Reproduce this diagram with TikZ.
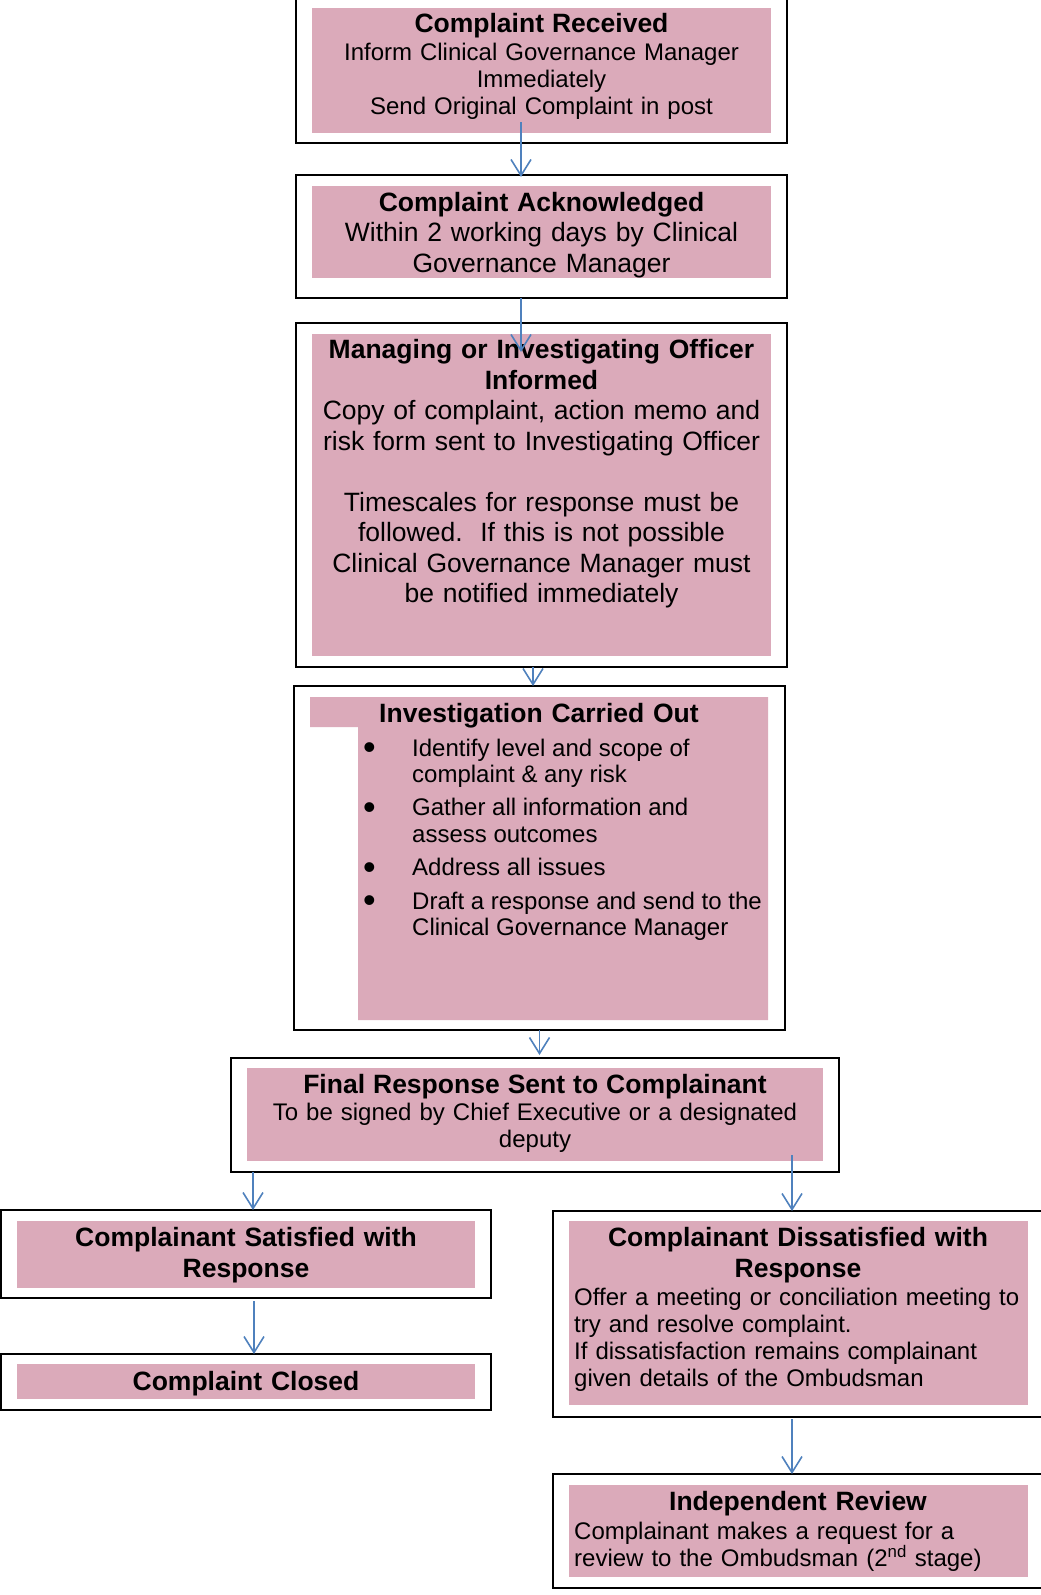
\documentclass[tikz,border=0pt]{standalone}
\usepackage{fontspec}
\setmainfont{Liberation Sans}
\usepackage{xcolor}
\usepackage{tikz}
\usetikzlibrary{arrows.meta}
\definecolor{stepfill}{RGB}{219,170,186}
\definecolor{flowblue}{RGB}{79,129,189}
\newcommand{\headfont}{\fontsize{26.5}{30.5}\bfseries\selectfont}
\newcommand{\bodyfont}{\fontsize{26.5}{30.5}\selectfont}
\newcommand{\smallfont}{\fontsize{24}{27.3}\selectfont}
\newcommand{\bigdot}{\makebox[49pt][l]{\raisebox{-3.5pt}{\fontsize{36}{0}\selectfont\textbullet}}}

\begin{document}
\begin{tikzpicture}[x=1pt,y=-1pt,
    frame/.style={draw=black,line width=1.8pt,inner sep=0pt,outer sep=0pt,anchor=north west},
    pinkbox/.style={fill=stepfill,inner sep=0pt,outer sep=0pt,anchor=north west},
    words/.style={anchor=base,inner sep=0pt,align=center},
    leftwords/.style={anchor=base west,inner sep=0pt,align=left},
    flow/.style={draw=flowblue,line width=1.6pt,-{Straight Barb[length=16pt,width=20pt]}}]
        \useasboundingbox (0,0) rectangle (1041,1595);

        \node[frame,minimum width=491pt,minimum height=147pt] (recvframe) at (296,-4) {};
        \node[pinkbox,minimum width=459pt,minimum height=125pt] (recvfill) at (312,8) {};
        \node[words,text width=455pt,font=\smallfont] (recvtext) at (541.5,33)
            {{\headfont Complaint Received}\\Inform Clinical Governance Manager\\Immediately\\Send Original Complaint in post};

        \node[frame,minimum width=491pt,minimum height=123pt] (ackframe) at (296,175) {};
        \node[pinkbox,minimum width=459pt,minimum height=92pt] (ackfill) at (312,186) {};
        \node[words,text width=455pt,font=\bodyfont] (acktext) at (541.5,211)
            {{\headfont Complaint Acknowledged}\\Within 2 working days by Clinical\\Governance Manager};

        \node[frame,minimum width=491pt,minimum height=344pt] (informframe) at (296,323) {};
        \node[pinkbox,minimum width=459pt,minimum height=322pt] (informfill) at (312,334) {};
        \node[words,text width=455pt,font=\bodyfont] (informtext) at (541.5,358.5)
            {{\headfont Managing or Investigating Officer}\\{\headfont Informed}\\Copy of complaint, action memo and\\risk form sent to Investigating Officer\\[30.5pt]
             Timescales for response must be\\followed.\ \ If this is not possible\\Clinical Governance Manager must\\be notified immediately};

        \node[frame,minimum width=491pt,minimum height=344pt] (investframe) at (294,686) {};
        \fill[stepfill] (310,697) -- (768,697) -- (768,1020) -- (358,1020) -- (358,727) -- (310,727) -- cycle;
        \node[words,text width=455pt,font=\headfont] (investhead) at (539,722.7) {Investigation Carried Out};
        \node[leftwords,font={\fontsize{24}{26.7}\selectfont}] (investlist) at (363,756)
            {\begin{tabular}[t]{@{}l@{}l@{}}
             \bigdot & Identify level and scope of\\
              & complaint \& any risk\\[6.5pt]
             \bigdot & Gather all information and\\
              & assess outcomes\\[6.5pt]
             \bigdot & Address all issues\\[6.5pt]
             \bigdot & Draft a response and send to the\\
              & Clinical Governance Manager
             \end{tabular}};

        \node[frame,minimum width=608pt,minimum height=114pt] (finalframe) at (231,1058) {};
        \node[pinkbox,minimum width=576pt,minimum height=93pt] (finalfill) at (247,1068) {};
        \node[words,text width=570pt,font=\smallfont] (finaltext) at (535,1093.3)
            {{\headfont Final Response Sent to Complainant}\\To be signed by Chief Executive or a designated\\deputy};

        \node[frame,minimum width=490pt,minimum height=88pt] (satframe) at (1,1210) {};
        \node[pinkbox,minimum width=458pt,minimum height=67pt] (satfill) at (17,1221) {};
        \node[words,text width=450pt,font=\headfont] (sattext) at (246,1246.7)
            {Complainant Satisfied with\\Response};

        \node[frame,minimum width=490pt,minimum height=56pt] (closedframe) at (1,1354) {};
        \node[pinkbox,minimum width=458pt,minimum height=35pt] (closedfill) at (17,1364) {};
        \node[words,text width=450pt,font=\headfont] (closedtext) at (246,1390) {Complaint Closed};

        \node[frame,minimum width=500pt,minimum height=206pt] (dissatframe) at (553,1211) {};
        \node[pinkbox,minimum width=459pt,minimum height=184pt] (dissatfill) at (569,1221) {};
        \node[words,text width=455pt,font=\headfont] (dissathead) at (798,1246.7)
            {Complainant Dissatisfied with\\Response};
        \node[leftwords,text width=450pt,font=\smallfont] (dissatbody) at (574,1305)
            {Offer a meeting or conciliation meeting to\\try and resolve complaint.\\If dissatisfaction remains complainant\\given details of the Ombudsman};

        \node[frame,minimum width=500pt,minimum height=114pt] (reviewframe) at (553,1474) {};
        \node[pinkbox,minimum width=459pt,minimum height=92pt] (reviewfill) at (569,1485) {};
        \node[words,text width=455pt,font=\headfont] (reviewhead) at (798,1510) {Independent Review};
        \node[leftwords,text width=450pt,font=\smallfont] (reviewbody) at (574,1539.3)
            {Complainant makes a request for a\\review to the Ombudsman (2\textsuperscript{nd} stage)};

        \draw[flow] ([xshift=-20.5pt,yshift=21pt]recvframe.south) -- ([xshift=-20.5pt,yshift=-2pt]ackframe.north);
        \draw[flow] ([xshift=-20.5pt]ackframe.south) -- ([xshift=-20.5pt,yshift=-29pt]informframe.north);
        \draw[flow] ([xshift=-8.5pt]informframe.south) -- ([xshift=-6.5pt]investframe.north);
        \draw[flow] (investframe.south) -- ([xshift=4.5pt,yshift=3pt]finalframe.north);
        \draw[flow] ([xshift=-282pt]finalframe.south) -- ([xshift=7pt]satframe.north);
        \draw[flow] ([xshift=257pt,yshift=17pt]finalframe.south) -- ([xshift=-11pt]dissatframe.north);
        \draw[flow] ([xshift=8pt,yshift=-3pt]satframe.south) -- ([xshift=8pt]closedframe.north);
        \draw[flow] ([xshift=-11pt,yshift=-2pt]dissatframe.south) -- ([xshift=-11pt]reviewframe.north);
    \end{tikzpicture}
\end{document}
